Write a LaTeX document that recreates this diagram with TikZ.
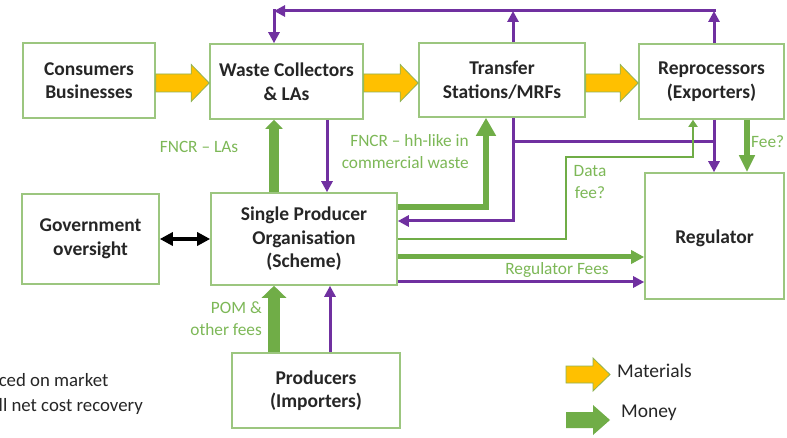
\documentclass[tikz,border=0pt]{standalone}
\usepackage{fontspec}
\setmainfont{Carlito}
\usetikzlibrary{arrows.meta,calc}
\definecolor{boxgreen}{HTML}{9CC67F}
\definecolor{moneycol}{HTML}{70AD47}
\definecolor{moneytxt}{HTML}{7DB857}
\definecolor{purp}{HTML}{7030A0}
\definecolor{matyel}{HTML}{FFC000}
\definecolor{matline}{HTML}{8DB255}
\definecolor{ink}{HTML}{262626}
\newcommand\matarrow[2]{%
  \filldraw[matstyle] let \p1=(#1), \p2=(#2) in
   (\x1,\y1+9pt) -- (\x2-18pt,\y1+9pt) -- (\x2-18pt,\y1+18.5pt) -- (\x2,\y1)
   -- (\x2-18pt,\y1-18.5pt) -- (\x2-18pt,\y1-9pt) -- (\x1,\y1-9pt) -- cycle;}
\begin{document}
\begin{tikzpicture}[x=1pt,y=-1pt,
  box/.style={draw=boxgreen, line width=1.6pt, fill=white, align=center, inner sep=0pt,
    text=ink, font=\bfseries\fontsize{19.5}{23.5}\selectfont},
  lbl/.style={text=moneytxt, font=\fontsize{17.3}{22}\selectfont, inner sep=0pt},
  legtxt/.style={text=ink, font=\fontsize{19.5}{23}\selectfont, inner sep=0pt},
  purpline/.style={draw=purp, line width=3pt},
  purparrow/.style={purpline, -{Triangle[length=11pt,width=11pt]}},
  moneythin/.style={draw=moneycol, line width=2.5pt, -{Triangle[length=7pt,width=9pt]}},
  moneyarr/.style n args={3}{draw=moneycol, line width=#1, -{Triangle[length=#2,width=#3]}},
  govarrow/.style={draw=black, line width=4pt,
    {Triangle[length=13pt,width=13pt]}-{Triangle[length=13pt,width=13pt]}},
  matstyle/.style={fill=matyel, draw=matline, line width=0.8pt},
]
\clip (0,0) rectangle (787,438);
\fill[white] (0,0) rectangle (787,438);

% boxes
\node[box, minimum width=132pt, minimum height=75pt] (cb) at (89,80.5) {Consumers\\Businesses};
\node[box, minimum width=153pt, minimum height=75pt] (wc) at (286.5,81.5) {Waste Collectors\\\& LAs};
\node[box, minimum width=166pt, minimum height=74pt] (ts) at (502,80) {Transfer\\Stations/MRFs};
\node[box, minimum width=145pt, minimum height=75pt] (rp) at (711.5,81.5) {Reprocessors\\(Exporters)};
\node[box, minimum width=137pt, minimum height=90pt] (gov) at (90.5,239) {Government\\oversight};
\node[box, minimum width=186pt, minimum height=92pt] (spo) at (304,239) {Single Producer\\Organisation\\(Scheme)};
\node[box, minimum width=168pt, minimum height=75pt] (prod) at (316,390.5) {Producers\\(Importers)};
\node[box, minimum width=139pt, minimum height=126pt] (reg) at (714.5,236) {};
\node[box, draw=none, fill=none] (regt) at (714.5,238) {Regulator};

% helper coordinates
\coordinate (ym) at (0,83);
\coordinate (xL) at (274,11);
\coordinate (xLtop) at (274,9.5);
\coordinate (xT) at (513,11);
\coordinate (xR) at (714,11);
\coordinate (xRend) at (716,11);
\coordinate (xP) at (327,0);
\coordinate (xG) at (274,0);
\coordinate (xQ) at (330,0);
\coordinate (xH) at (486,207);
\coordinate (yTS) at (0,221);
\coordinate (yBr) at (0,142);
\coordinate (dfc) at (566,157);
\coordinate (xDF) at (693,0);
\coordinate (xFee) at (747,0);
\coordinate (yDF) at (0,239);
\coordinate (yRF) at (0,257);
\coordinate (yRP) at (0,282);

% materials arrows
\matarrow{cb.east |- ym}{wc.west |- ym}
\matarrow{wc.east |- ym}{ts.west |- ym}
\matarrow{ts.east |- ym}{rp.west |- ym}

% purple top loop
\draw[purparrow] (ts.north -| xT) -- (xT);
\draw[purparrow] (rp.north -| xR) -- (xR);
\draw[purparrow] (xRend) -- (xL);
\draw[purparrow] (xLtop) -- (wc.north -| xL);

% collectors <-> SPO
\draw[purparrow] (wc.south -| xP) -- (spo.north -| xP);
\draw[moneyarr={10pt}{9pt}{17pt}] (spo.north -| xG) -- (wc.south -| xG);

% SPO <-> transfer stations
\draw[moneyarr={6pt}{18pt}{19pt}] (spo.east |- xH) -| (ts.south -| xH);
\draw[purparrow] (ts.south -| xT) |- (spo.east |- yTS);
\draw[purpline] (xT |- yBr) -- (xR |- yBr);

% reprocessors -> regulator
\draw[purparrow] (rp.south -| xR) -- (reg.north -| xR);
\draw[moneyarr={6pt}{17pt}{15pt}] (rp.south -| xFee) -- (reg.north -| xFee);

% data fee
\draw[moneythin] (spo.east |- yDF) -| (dfc) -| (rp.south -| xDF);

% SPO -> regulator
\draw[moneyarr={5pt}{13pt}{13pt}] (spo.east |- yRF) -- (reg.west |- yRF);
\draw[purparrow] (spo.east |- yRP) -- (reg.west |- yRP);

% producers -> SPO
\draw[moneyarr={12pt}{12pt}{24pt}] (prod.north -| xG) -- (spo.south -| xG);
\draw[purparrow] (prod.north -| xQ) -- (spo.south -| xQ);

% government <-> SPO
\draw[govarrow] (gov.east) -- (spo.west);

% labels
\node[lbl] (l1) at (199,147) {FNCR – LAs};
\node[lbl, align=right, anchor=east] (l2) at (469,152) {FNCR – hh-like in\\commercial waste};
\node[lbl, align=center] (l3) at (590,182) {Data\\fee?};
\node[lbl, anchor=west] (l4) at (751,142) {Fee?};
\node[lbl] (l5) at (557,270) {Regulator Fees};
\node[lbl, align=right, anchor=east] (l6) at (262,319) {POM \&\\other fees};

% legend
\filldraw[matstyle] (566,366) -- (593,366) -- (593,358) -- (610,374.5) -- (593,391) -- (593,383) -- (566,383) -- cycle;
\fill[moneycol] (566,412) -- (593,412) -- (593,405) -- (610,420) -- (593,435) -- (593,428) -- (566,428) -- cycle;
\node[legtxt, anchor=west] (mat) at (617,371) {Materials};
\node[legtxt, anchor=west] (mon) at (621,413) {Money};

% footnote (cut off at the left edge)
\node[legtxt, font=\fontsize{18.8}{22}\selectfont, anchor=mid east] (fn1) at (108.5,384) {POM – Placed on market};
\node[legtxt, font=\fontsize{18.8}{22}\selectfont, anchor=mid east] (fn2) at (143,409) {FNCR – Full net cost recovery};
\end{tikzpicture}
\end{document}
